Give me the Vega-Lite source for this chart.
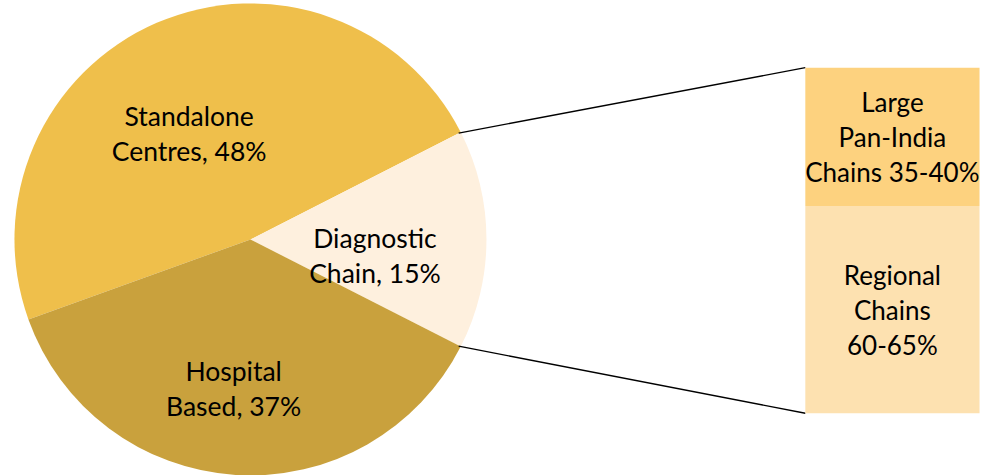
{
  "$schema": "https://vega.github.io/schema/vega-lite/v6.json",
  "width": 986,
  "height": 475,
  "autosize": {"type": "fit", "contains": "padding"},
  "padding": 0,
  "background": "white",
  "config": {"view": {"stroke": null}},
  "datasets": {
    "segments": [
      {"segment": "Standalone Centres", "share": 48, "label": "Standalone\nCentres, 48%"},
      {"segment": "Diagnostic Chain", "share": 15, "label": "Diagnostic\nChain, 15%"},
      {"segment": "Hospital Based", "share": 37, "label": "Hospital\nBased, 37%"}
    ],
    "chains": [
      {"tier": "Large Pan-India Chains", "share": 40, "label": "Large\nPan-India\nChains 35-40%"},
      {"tier": "Regional Chains", "share": 60, "label": "Regional\nChains\n60-65%"}
    ]
  },
  "layer": [
    {
      "data": {"name": "segments"},
      "mark": {"type": "arc", "radius": 236},
      "encoding": {
        "x": {"datum": 25.15, "type": "quantitative", "scale": {"domain": [0, 100], "nice": false, "zero": false}, "axis": null},
        "y": {"datum": 50.3, "type": "quantitative", "scale": {"domain": [-17.29, 119.6], "nice": false, "zero": false}, "axis": null},
        "theta": {"field": "share", "type": "quantitative", "stack": true, "scale": {"range": [1.0996, 7.3827]}},
        "order": {"field": "share", "sort": "ascending"},
        "color": {
          "field": "segment",
          "type": "nominal",
          "scale": {
            "domain": ["Standalone Centres", "Diagnostic Chain", "Hospital Based", "Large Pan-India Chains", "Regional Chains"],
            "range": ["#EFBF4B", "#FEF0DE", "#C9A13D", "#FDD27F", "#FDE1B0"]
          },
          "legend": null
        }
      }
    },
    {
      "data": {"name": "segments"},
      "mark": {"type": "text", "radius": 133, "font": "Lato", "fontSize": 26.5, "lineBreak": "\n", "lineHeight": 35, "align": "center", "baseline": "middle", "dx": -8.5, "dy": 0.5, "color": "#000000"},
      "encoding": {
        "x": {"datum": 25.15, "type": "quantitative"},
        "y": {"datum": 50.3, "type": "quantitative"},
        "theta": {"field": "share", "type": "quantitative", "stack": true},
        "order": {"field": "share", "sort": "ascending"},
        "text": {"field": "label"}
      }
    },
    {
      "data": {"values": [{}]},
      "mark": {"type": "rule", "color": "#000000", "strokeWidth": 1.3},
      "encoding": {
        "x": {"datum": 46.48, "type": "quantitative"},
        "y": {"datum": 81.1, "type": "quantitative"},
        "x2": {"datum": 82.0},
        "y2": {"datum": 100}
      }
    },
    {
      "data": {"values": [{}]},
      "mark": {"type": "rule", "color": "#000000", "strokeWidth": 1.3},
      "encoding": {
        "x": {"datum": 46.48, "type": "quantitative"},
        "y": {"datum": 19.4, "type": "quantitative"},
        "x2": {"datum": 82.0},
        "y2": {"datum": 0}
      }
    },
    {
      "data": {"name": "chains"},
      "mark": {"type": "bar", "orient": "vertical"},
      "encoding": {
        "x": {"datum": 82.0, "type": "quantitative"},
        "x2": {"datum": 99.85},
        "y": {"field": "share", "type": "quantitative", "stack": "zero"},
        "order": {"field": "share", "sort": "descending"},
        "color": {"field": "tier", "type": "nominal", "legend": null}
      }
    },
    {
      "data": {"name": "chains"},
      "mark": {"type": "text", "font": "Lato", "fontSize": 26, "lineBreak": "\n", "lineHeight": 35, "align": "center", "baseline": "middle", "dy": -33, "color": "#000000"},
      "encoding": {
        "x": {"datum": 90.92, "type": "quantitative"},
        "y": {"field": "share", "type": "quantitative", "stack": "zero", "bandPosition": 0.5},
        "order": {"field": "share", "sort": "descending"},
        "detail": {"field": "tier"},
        "text": {"field": "label"}
      }
    }
  ]
}
